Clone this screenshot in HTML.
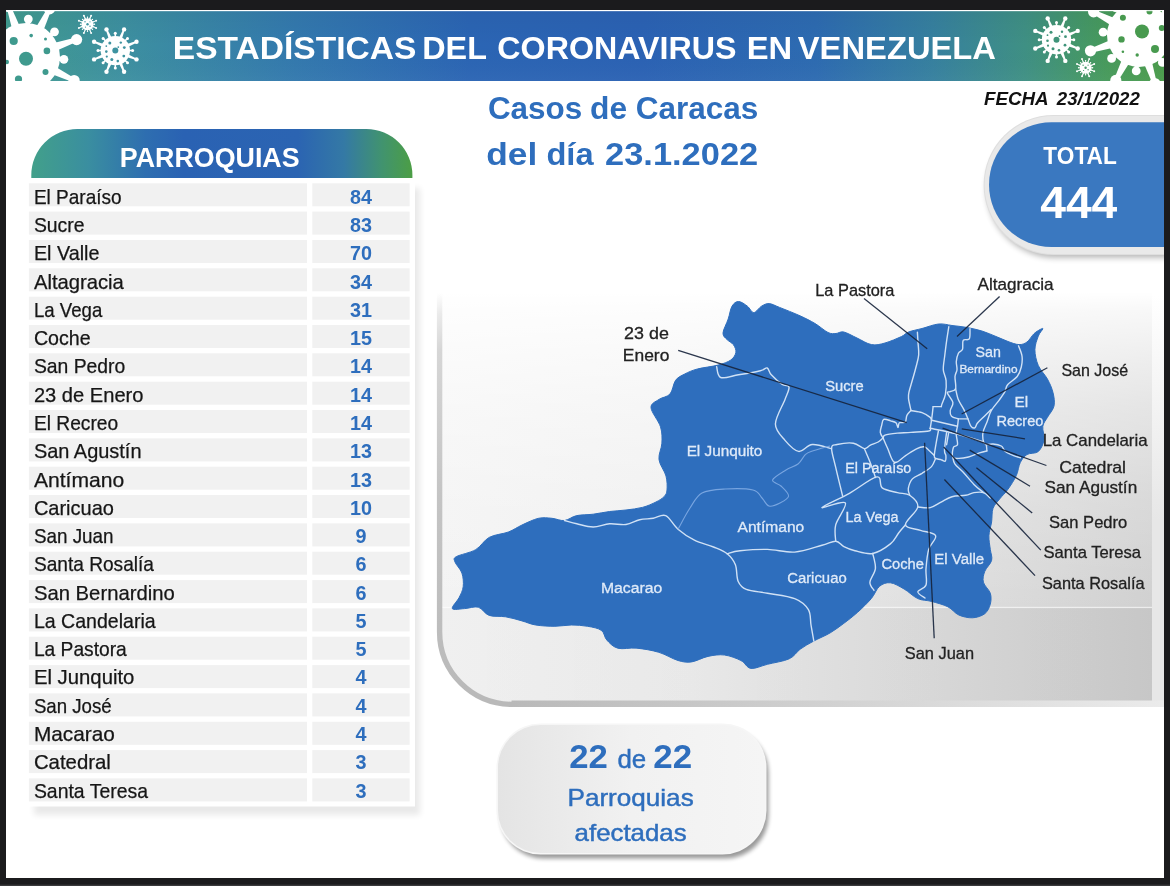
<!DOCTYPE html>
<html lang="es"><head><meta charset="utf-8"><title>Estadísticas del Coronavirus en Venezuela</title>
<style>html,body{margin:0;padding:0;background:#1b1b1d;}body{width:1170px;height:886px;overflow:hidden;}svg{display:block;font-family:"Liberation Sans",sans-serif;}</style>
</head><body>
<svg width="1170" height="886" viewBox="0 0 1170 886">
<defs>
<linearGradient id="gh" x1="0" x2="1" y1="0" y2="0">
<stop offset="0" stop-color="#419b8f"/><stop offset="0.10" stop-color="#3d90a0"/><stop offset="0.25" stop-color="#3379ae"/><stop offset="0.40" stop-color="#2b65b4"/><stop offset="0.55" stop-color="#2b62b4"/><stop offset="0.70" stop-color="#2d6bb1"/><stop offset="0.80" stop-color="#36809f"/><stop offset="0.88" stop-color="#3f9084"/><stop offset="0.95" stop-color="#479a5c"/><stop offset="1" stop-color="#4b9c4c"/>
</linearGradient>
<linearGradient id="ghv" x1="0" x2="0" y1="0" y2="1">
<stop offset="0" stop-color="#000" stop-opacity="0.04"/><stop offset="0.5" stop-color="#000" stop-opacity="0"/><stop offset="1" stop-color="#fff" stop-opacity="0.03"/>
</linearGradient>
<linearGradient id="gt" x1="0" x2="1" y1="0" y2="0">
<stop offset="0" stop-color="#42a08a"/><stop offset="0.15" stop-color="#3a8ea0"/><stop offset="0.30" stop-color="#2e6eb0"/><stop offset="0.40" stop-color="#2a62b3"/><stop offset="0.70" stop-color="#2b64b2"/><stop offset="0.82" stop-color="#3479a5"/><stop offset="0.92" stop-color="#41936f"/><stop offset="1" stop-color="#4c9e45"/>
</linearGradient>
<linearGradient id="gpo" x1="0" x2="1" y1="0" y2="0">
<stop offset="0" stop-color="#bcbcbc"/><stop offset="0.5" stop-color="#cfcfcf"/><stop offset="1" stop-color="#e9e9e9"/>
</linearGradient>
<linearGradient id="gpi" x1="0" x2="1" y1="0" y2="0">
<stop offset="0" stop-color="#f3f3f3"/><stop offset="0.35" stop-color="#eeeeee"/><stop offset="0.7" stop-color="#dedede"/><stop offset="1" stop-color="#cfcfcf"/>
</linearGradient>
<linearGradient id="gfade" x1="0" x2="0" y1="0" y2="1">
<stop offset="0" stop-color="#fff" stop-opacity="1"/><stop offset="0.12" stop-color="#fff" stop-opacity="1"/><stop offset="0.45" stop-color="#fff" stop-opacity="0.55"/><stop offset="1" stop-color="#fff" stop-opacity="0"/>
</linearGradient>
<linearGradient id="gbadge" x1="0" x2="1" y1="0" y2="0">
<stop offset="0" stop-color="#e4e4e4"/><stop offset="0.5" stop-color="#f1f1f1"/><stop offset="1" stop-color="#f5f5f5"/>
</linearGradient>
<filter id="sh" x="-10%" y="-10%" width="125%" height="130%"><feGaussianBlur stdDeviation="3"/></filter>
<filter id="sh1" x="-10%" y="-10%" width="125%" height="130%"><feGaussianBlur stdDeviation="2"/></filter>
<filter id="sh2" x="-10%" y="-10%" width="125%" height="130%"><feGaussianBlur stdDeviation="4"/></filter>
<clipPath id="cpHead"><rect x="6" y="10" width="1158" height="71"/></clipPath>
<clipPath id="cpWhite"><rect x="6" y="10" width="1158" height="868"/></clipPath>
</defs>
<rect x="0" y="0" width="1170" height="886" fill="#1b1b1d"/>
<rect x="0" y="884.6" width="1170" height="1.4" fill="#39393b"/>
<rect x="6" y="10" width="1158" height="868" fill="#ffffff"/>
<rect x="6" y="11" width="1158" height="70" fill="url(#gh)"/>
<rect x="6" y="11" width="1158" height="70" fill="url(#ghv)"/>
<g clip-path="url(#cpHead)">
<g fill="#fff" stroke="#fff" stroke-linecap="round">
<polygon stroke="none" points="54.7,51.6 77.3,41.6 75.9,37.6 51.9,43.6"/>
<circle cx="76.6" cy="39.6" r="5.60" stroke="none"/>
<line x1="54.8" y1="58.8" x2="63.9" y2="59.3" stroke-width="4.00"/>
<circle cx="63.9" cy="59.3" r="4.40" stroke="none"/>
<polygon stroke="none" points="50.1,73.5 73.2,82.3 75.0,78.6 53.8,65.8"/>
<circle cx="74.1" cy="80.5" r="5.60" stroke="none"/>
<line x1="45.1" y1="78.6" x2="51.2" y2="85.5" stroke-width="4.00"/>
<circle cx="51.2" cy="85.5" r="4.40" stroke="none"/>
<polygon stroke="none" points="31.4,85.7 41.4,108.3 45.4,106.9 39.4,82.9"/>
<circle cx="43.4" cy="107.6" r="5.60" stroke="none"/>
<line x1="24.2" y1="85.8" x2="23.7" y2="94.9" stroke-width="4.00"/>
<circle cx="23.7" cy="94.9" r="4.40" stroke="none"/>
<polygon stroke="none" points="9.5,81.1 0.7,104.2 4.4,106.0 17.2,84.8"/>
<circle cx="2.5" cy="105.1" r="5.60" stroke="none"/>
<line x1="4.4" y1="76.1" x2="-2.5" y2="82.2" stroke-width="4.00"/>
<circle cx="-2.5" cy="82.2" r="4.40" stroke="none"/>
<polygon stroke="none" points="-2.7,62.4 -25.3,72.4 -23.9,76.4 0.1,70.4"/>
<circle cx="-24.6" cy="74.4" r="5.60" stroke="none"/>
<line x1="-2.8" y1="55.2" x2="-11.9" y2="54.7" stroke-width="4.00"/>
<circle cx="-11.9" cy="54.7" r="4.40" stroke="none"/>
<polygon stroke="none" points="1.9,40.5 -21.2,31.7 -23.0,35.4 -1.8,48.2"/>
<circle cx="-22.1" cy="33.5" r="5.60" stroke="none"/>
<line x1="6.9" y1="35.4" x2="0.8" y2="28.5" stroke-width="4.00"/>
<circle cx="0.8" cy="28.5" r="4.40" stroke="none"/>
<polygon stroke="none" points="20.6,28.3 10.6,5.7 6.6,7.1 12.6,31.1"/>
<circle cx="8.6" cy="6.4" r="5.60" stroke="none"/>
<line x1="27.8" y1="28.2" x2="28.3" y2="19.1" stroke-width="4.00"/>
<circle cx="28.3" cy="19.1" r="4.40" stroke="none"/>
<polygon stroke="none" points="42.5,32.9 51.3,9.8 47.6,8.0 34.8,29.2"/>
<circle cx="49.5" cy="8.9" r="5.60" stroke="none"/>
<line x1="47.6" y1="37.9" x2="54.5" y2="31.8" stroke-width="4.00"/>
<circle cx="54.5" cy="31.8" r="4.40" stroke="none"/>
<circle cx="26" cy="57" r="34" stroke="none"/>
</g>
<g fill="#3f9a8e">
<circle cx="26.0" cy="58.8" r="7"/>
<circle cx="13.7" cy="41.0" r="4.1"/>
<circle cx="31.2" cy="35.6" r="1.8"/>
<circle cx="45.5" cy="39.0" r="1.5"/>
<circle cx="46.9" cy="50.9" r="3.3"/>
<circle cx="45.5" cy="72.0" r="3"/>
<circle cx="18.5" cy="79.0" r="3.6"/>
<circle cx="6.8" cy="62.0" r="2.2"/>
</g>
<g fill="#fff" stroke="#fff" stroke-linecap="round">
<polygon stroke="none" points="126.2,56.9 136.2,60.1 136.9,58.7 127.5,53.9"/>
<circle cx="136.5" cy="59.4" r="2.20" stroke="none"/>
<line x1="124.1" y1="59.4" x2="127.5" y2="62.8" stroke-width="1.52"/>
<circle cx="127.5" cy="62.8" r="1.50" stroke="none"/>
<polygon stroke="none" points="118.6,62.8 123.4,72.2 124.8,71.5 121.6,61.5"/>
<circle cx="124.1" cy="71.8" r="2.20" stroke="none"/>
<line x1="115.3" y1="63.1" x2="115.3" y2="67.9" stroke-width="1.52"/>
<circle cx="115.3" cy="67.9" r="1.50" stroke="none"/>
<polygon stroke="none" points="109.0,61.5 105.8,71.5 107.2,72.2 112.0,62.8"/>
<circle cx="106.5" cy="71.8" r="2.20" stroke="none"/>
<line x1="106.5" y1="59.4" x2="103.1" y2="62.8" stroke-width="1.52"/>
<circle cx="103.1" cy="62.8" r="1.50" stroke="none"/>
<polygon stroke="none" points="103.1,53.9 93.7,58.7 94.4,60.1 104.4,56.9"/>
<circle cx="94.1" cy="59.4" r="2.20" stroke="none"/>
<line x1="102.8" y1="50.6" x2="98.0" y2="50.6" stroke-width="1.52"/>
<circle cx="98.0" cy="50.6" r="1.50" stroke="none"/>
<polygon stroke="none" points="104.4,44.3 94.4,41.1 93.7,42.5 103.1,47.3"/>
<circle cx="94.1" cy="41.8" r="2.20" stroke="none"/>
<line x1="106.5" y1="41.8" x2="103.1" y2="38.4" stroke-width="1.52"/>
<circle cx="103.1" cy="38.4" r="1.50" stroke="none"/>
<polygon stroke="none" points="112.0,38.4 107.2,29.0 105.8,29.7 109.0,39.7"/>
<circle cx="106.5" cy="29.4" r="2.20" stroke="none"/>
<line x1="115.3" y1="38.1" x2="115.3" y2="33.3" stroke-width="1.52"/>
<circle cx="115.3" cy="33.3" r="1.50" stroke="none"/>
<polygon stroke="none" points="121.6,39.7 124.8,29.7 123.4,29.0 118.6,38.4"/>
<circle cx="124.1" cy="29.4" r="2.20" stroke="none"/>
<line x1="124.1" y1="41.8" x2="127.5" y2="38.4" stroke-width="1.52"/>
<circle cx="127.5" cy="38.4" r="1.50" stroke="none"/>
<polygon stroke="none" points="127.5,47.3 136.9,42.5 136.2,41.1 126.2,44.3"/>
<circle cx="136.5" cy="41.8" r="2.20" stroke="none"/>
<line x1="127.8" y1="50.6" x2="132.6" y2="50.6" stroke-width="1.52"/>
<circle cx="132.6" cy="50.6" r="1.50" stroke="none"/>
<circle cx="115.3" cy="50.6" r="14.7" stroke="none"/>
</g>
<g fill="#3e93a0">
<circle cx="115.3" cy="50.6" r="3"/>
<circle cx="109.8" cy="43.1" r="1.5"/>
<circle cx="120.8" cy="42.6" r="1.2"/>
<circle cx="124.3" cy="47.6" r="1.4"/>
<circle cx="123.8" cy="56.1" r="1.4"/>
<circle cx="117.8" cy="61.1" r="1.3"/>
<circle cx="111.8" cy="59.6" r="1.5"/>
<circle cx="106.3" cy="51.6" r="1.3"/>
<circle cx="106.8" cy="56.6" r="1.1"/>
<circle cx="118.3" cy="47.1" r="0.9"/>
<circle cx="106.3" cy="46.1" r="0.9"/>
</g>
<g fill="#fff" stroke="#fff" stroke-linecap="round">
<polygon stroke="none" points="91.9,27.0 95.9,28.2 96.2,27.5 92.5,25.5"/>
<circle cx="96.1" cy="27.9" r="1.00" stroke="none"/>
<line x1="91.1" y1="27.9" x2="92.4" y2="29.2" stroke-width="0.72"/>
<circle cx="92.4" cy="29.2" r="0.70" stroke="none"/>
<polygon stroke="none" points="88.7,29.3 90.7,33.0 91.4,32.7 90.2,28.7"/>
<circle cx="91.1" cy="32.9" r="1.00" stroke="none"/>
<line x1="87.5" y1="29.4" x2="87.5" y2="31.3" stroke-width="0.72"/>
<circle cx="87.5" cy="31.3" r="0.70" stroke="none"/>
<polygon stroke="none" points="84.8,28.7 83.6,32.7 84.3,33.0 86.3,29.3"/>
<circle cx="83.9" cy="32.9" r="1.00" stroke="none"/>
<line x1="83.9" y1="27.9" x2="82.6" y2="29.2" stroke-width="0.72"/>
<circle cx="82.6" cy="29.2" r="0.70" stroke="none"/>
<polygon stroke="none" points="82.5,25.5 78.8,27.5 79.1,28.2 83.1,27.0"/>
<circle cx="78.9" cy="27.9" r="1.00" stroke="none"/>
<line x1="82.4" y1="24.3" x2="80.5" y2="24.3" stroke-width="0.72"/>
<circle cx="80.5" cy="24.3" r="0.70" stroke="none"/>
<polygon stroke="none" points="83.1,21.6 79.1,20.4 78.8,21.1 82.5,23.1"/>
<circle cx="78.9" cy="20.7" r="1.00" stroke="none"/>
<line x1="83.9" y1="20.7" x2="82.6" y2="19.4" stroke-width="0.72"/>
<circle cx="82.6" cy="19.4" r="0.70" stroke="none"/>
<polygon stroke="none" points="86.3,19.3 84.3,15.6 83.6,15.9 84.8,19.9"/>
<circle cx="83.9" cy="15.7" r="1.00" stroke="none"/>
<line x1="87.5" y1="19.2" x2="87.5" y2="17.3" stroke-width="0.72"/>
<circle cx="87.5" cy="17.3" r="0.70" stroke="none"/>
<polygon stroke="none" points="90.2,19.9 91.4,15.9 90.7,15.6 88.7,19.3"/>
<circle cx="91.1" cy="15.7" r="1.00" stroke="none"/>
<line x1="91.1" y1="20.7" x2="92.4" y2="19.4" stroke-width="0.72"/>
<circle cx="92.4" cy="19.4" r="0.70" stroke="none"/>
<polygon stroke="none" points="92.5,23.1 96.2,21.1 95.9,20.4 91.9,21.6"/>
<circle cx="96.1" cy="20.7" r="1.00" stroke="none"/>
<line x1="92.6" y1="24.3" x2="94.5" y2="24.3" stroke-width="0.72"/>
<circle cx="94.5" cy="24.3" r="0.70" stroke="none"/>
<circle cx="87.5" cy="24.3" r="6" stroke="none"/>
</g>
<g fill="#3e95a0">
<circle cx="87.5" cy="24.3" r="1.2"/>
<circle cx="85.0" cy="21.8" r="0.7"/>
<circle cx="90.0" cy="26.3" r="0.7"/>
<circle cx="90.0" cy="21.8" r="0.6"/>
<circle cx="85.5" cy="27.1" r="0.6"/>
</g>
<g fill="#fff" stroke="#fff" stroke-linecap="round">
<polygon stroke="none" points="1166.2,30.6 1188.2,21.2 1186.9,17.2 1163.6,22.6"/>
<circle cx="1187.5" cy="19.2" r="5.60" stroke="none"/>
<line x1="1166.1" y1="37.1" x2="1174.9" y2="37.8" stroke-width="4.00"/>
<circle cx="1174.9" cy="37.8" r="4.40" stroke="none"/>
<polygon stroke="none" points="1161.3,51.1 1183.5,60.0 1185.4,56.3 1165.2,43.6"/>
<circle cx="1184.4" cy="58.2" r="5.60" stroke="none"/>
<line x1="1156.7" y1="55.7" x2="1162.4" y2="62.4" stroke-width="4.00"/>
<circle cx="1162.4" cy="62.4" r="4.40" stroke="none"/>
<polygon stroke="none" points="1143.4,62.2 1152.8,84.2 1156.8,82.9 1151.4,59.6"/>
<circle cx="1154.8" cy="83.5" r="5.60" stroke="none"/>
<line x1="1136.9" y1="62.1" x2="1136.2" y2="70.9" stroke-width="4.00"/>
<circle cx="1136.2" cy="70.9" r="4.40" stroke="none"/>
<polygon stroke="none" points="1122.9,57.3 1114.0,79.5 1117.7,81.4 1130.4,61.2"/>
<circle cx="1115.8" cy="80.4" r="5.60" stroke="none"/>
<line x1="1118.3" y1="52.7" x2="1111.6" y2="58.4" stroke-width="4.00"/>
<circle cx="1111.6" cy="58.4" r="4.40" stroke="none"/>
<polygon stroke="none" points="1111.8,39.4 1089.8,48.8 1091.1,52.8 1114.4,47.4"/>
<circle cx="1090.5" cy="50.8" r="5.60" stroke="none"/>
<line x1="1111.9" y1="32.9" x2="1103.1" y2="32.2" stroke-width="4.00"/>
<circle cx="1103.1" cy="32.2" r="4.40" stroke="none"/>
<polygon stroke="none" points="1116.7,18.9 1094.5,10.0 1092.6,13.7 1112.8,26.4"/>
<circle cx="1093.6" cy="11.8" r="5.60" stroke="none"/>
<line x1="1121.3" y1="14.3" x2="1115.6" y2="7.6" stroke-width="4.00"/>
<circle cx="1115.6" cy="7.6" r="4.40" stroke="none"/>
<polygon stroke="none" points="1134.6,7.8 1125.2,-14.2 1121.2,-12.9 1126.6,10.4"/>
<circle cx="1123.2" cy="-13.5" r="5.60" stroke="none"/>
<line x1="1141.1" y1="7.9" x2="1141.8" y2="-0.9" stroke-width="4.00"/>
<circle cx="1141.8" cy="-0.9" r="4.40" stroke="none"/>
<polygon stroke="none" points="1155.1,12.7 1164.0,-9.5 1160.3,-11.4 1147.6,8.8"/>
<circle cx="1162.2" cy="-10.4" r="5.60" stroke="none"/>
<line x1="1159.7" y1="17.3" x2="1166.4" y2="11.6" stroke-width="4.00"/>
<circle cx="1166.4" cy="11.6" r="4.40" stroke="none"/>
<circle cx="1139" cy="35" r="32" stroke="none"/>
</g>
<g fill="#489a4f">
<circle cx="1142.0" cy="31.5" r="7"/>
<circle cx="1122.9" cy="17.8" r="3"/>
<circle cx="1121.5" cy="39.4" r="3.2"/>
<circle cx="1155.0" cy="49.0" r="4"/>
<circle cx="1137.2" cy="55.0" r="1.7"/>
<circle cx="1122.9" cy="51.7" r="1.3"/>
<circle cx="1161.8" cy="28.0" r="3"/>
<circle cx="1149.5" cy="11.6" r="3"/>
</g>
<g fill="#fff" stroke="#fff" stroke-linecap="round">
<polygon stroke="none" points="1067.4,46.0 1077.4,49.2 1078.1,47.8 1068.7,43.0"/>
<circle cx="1077.7" cy="48.5" r="2.20" stroke="none"/>
<line x1="1065.3" y1="48.5" x2="1068.7" y2="51.9" stroke-width="1.52"/>
<circle cx="1068.7" cy="51.9" r="1.50" stroke="none"/>
<polygon stroke="none" points="1059.8,51.9 1064.6,61.3 1066.0,60.6 1062.8,50.6"/>
<circle cx="1065.3" cy="60.9" r="2.20" stroke="none"/>
<line x1="1056.5" y1="52.2" x2="1056.5" y2="57.0" stroke-width="1.52"/>
<circle cx="1056.5" cy="57.0" r="1.50" stroke="none"/>
<polygon stroke="none" points="1050.2,50.6 1047.0,60.6 1048.4,61.3 1053.2,51.9"/>
<circle cx="1047.7" cy="60.9" r="2.20" stroke="none"/>
<line x1="1047.7" y1="48.5" x2="1044.3" y2="51.9" stroke-width="1.52"/>
<circle cx="1044.3" cy="51.9" r="1.50" stroke="none"/>
<polygon stroke="none" points="1044.3,43.0 1034.9,47.8 1035.6,49.2 1045.6,46.0"/>
<circle cx="1035.3" cy="48.5" r="2.20" stroke="none"/>
<line x1="1044.0" y1="39.7" x2="1039.2" y2="39.7" stroke-width="1.52"/>
<circle cx="1039.2" cy="39.7" r="1.50" stroke="none"/>
<polygon stroke="none" points="1045.6,33.4 1035.6,30.2 1034.9,31.6 1044.3,36.4"/>
<circle cx="1035.3" cy="30.9" r="2.20" stroke="none"/>
<line x1="1047.7" y1="30.9" x2="1044.3" y2="27.5" stroke-width="1.52"/>
<circle cx="1044.3" cy="27.5" r="1.50" stroke="none"/>
<polygon stroke="none" points="1053.2,27.5 1048.4,18.1 1047.0,18.8 1050.2,28.8"/>
<circle cx="1047.7" cy="18.5" r="2.20" stroke="none"/>
<line x1="1056.5" y1="27.2" x2="1056.5" y2="22.4" stroke-width="1.52"/>
<circle cx="1056.5" cy="22.4" r="1.50" stroke="none"/>
<polygon stroke="none" points="1062.8,28.8 1066.0,18.8 1064.6,18.1 1059.8,27.5"/>
<circle cx="1065.3" cy="18.5" r="2.20" stroke="none"/>
<line x1="1065.3" y1="30.9" x2="1068.7" y2="27.5" stroke-width="1.52"/>
<circle cx="1068.7" cy="27.5" r="1.50" stroke="none"/>
<polygon stroke="none" points="1068.7,36.4 1078.1,31.6 1077.4,30.2 1067.4,33.4"/>
<circle cx="1077.7" cy="30.9" r="2.20" stroke="none"/>
<line x1="1069.0" y1="39.7" x2="1073.8" y2="39.7" stroke-width="1.52"/>
<circle cx="1073.8" cy="39.7" r="1.50" stroke="none"/>
<circle cx="1056.5" cy="39.7" r="14.7" stroke="none"/>
</g>
<g fill="#40947a">
<circle cx="1056.5" cy="39.7" r="3"/>
<circle cx="1051.0" cy="32.2" r="1.5"/>
<circle cx="1062.0" cy="31.7" r="1.2"/>
<circle cx="1065.5" cy="36.7" r="1.4"/>
<circle cx="1065.0" cy="45.2" r="1.4"/>
<circle cx="1059.0" cy="50.2" r="1.3"/>
<circle cx="1053.0" cy="48.7" r="1.5"/>
<circle cx="1047.5" cy="40.7" r="1.3"/>
<circle cx="1048.0" cy="45.7" r="1.1"/>
<circle cx="1059.5" cy="36.2" r="0.9"/>
<circle cx="1047.5" cy="35.2" r="0.9"/>
</g>
<g fill="#fff" stroke="#fff" stroke-linecap="round">
<polygon stroke="none" points="1090.0,70.4 1094.0,71.6 1094.3,70.9 1090.6,68.9"/>
<circle cx="1094.2" cy="71.3" r="1.00" stroke="none"/>
<line x1="1089.2" y1="71.3" x2="1090.5" y2="72.6" stroke-width="0.72"/>
<circle cx="1090.5" cy="72.6" r="0.70" stroke="none"/>
<polygon stroke="none" points="1086.8,72.7 1088.8,76.4 1089.5,76.1 1088.3,72.1"/>
<circle cx="1089.2" cy="76.3" r="1.00" stroke="none"/>
<line x1="1085.6" y1="72.8" x2="1085.6" y2="74.7" stroke-width="0.72"/>
<circle cx="1085.6" cy="74.7" r="0.70" stroke="none"/>
<polygon stroke="none" points="1082.9,72.1 1081.7,76.1 1082.4,76.4 1084.4,72.7"/>
<circle cx="1082.0" cy="76.3" r="1.00" stroke="none"/>
<line x1="1082.0" y1="71.3" x2="1080.7" y2="72.6" stroke-width="0.72"/>
<circle cx="1080.7" cy="72.6" r="0.70" stroke="none"/>
<polygon stroke="none" points="1080.6,68.9 1076.9,70.9 1077.2,71.6 1081.2,70.4"/>
<circle cx="1077.0" cy="71.3" r="1.00" stroke="none"/>
<line x1="1080.5" y1="67.7" x2="1078.6" y2="67.7" stroke-width="0.72"/>
<circle cx="1078.6" cy="67.7" r="0.70" stroke="none"/>
<polygon stroke="none" points="1081.2,65.0 1077.2,63.8 1076.9,64.5 1080.6,66.5"/>
<circle cx="1077.0" cy="64.1" r="1.00" stroke="none"/>
<line x1="1082.0" y1="64.1" x2="1080.7" y2="62.8" stroke-width="0.72"/>
<circle cx="1080.7" cy="62.8" r="0.70" stroke="none"/>
<polygon stroke="none" points="1084.4,62.7 1082.4,59.0 1081.7,59.3 1082.9,63.3"/>
<circle cx="1082.0" cy="59.1" r="1.00" stroke="none"/>
<line x1="1085.6" y1="62.6" x2="1085.6" y2="60.7" stroke-width="0.72"/>
<circle cx="1085.6" cy="60.7" r="0.70" stroke="none"/>
<polygon stroke="none" points="1088.3,63.3 1089.5,59.3 1088.8,59.0 1086.8,62.7"/>
<circle cx="1089.2" cy="59.1" r="1.00" stroke="none"/>
<line x1="1089.2" y1="64.1" x2="1090.5" y2="62.8" stroke-width="0.72"/>
<circle cx="1090.5" cy="62.8" r="0.70" stroke="none"/>
<polygon stroke="none" points="1090.6,66.5 1094.3,64.5 1094.0,63.8 1090.0,65.0"/>
<circle cx="1094.2" cy="64.1" r="1.00" stroke="none"/>
<line x1="1090.7" y1="67.7" x2="1092.6" y2="67.7" stroke-width="0.72"/>
<circle cx="1092.6" cy="67.7" r="0.70" stroke="none"/>
<circle cx="1085.6" cy="67.7" r="6" stroke="none"/>
</g>
<g fill="#45986a">
<circle cx="1085.6" cy="67.7" r="1.2"/>
<circle cx="1083.1" cy="65.2" r="0.7"/>
<circle cx="1088.1" cy="69.7" r="0.7"/>
<circle cx="1088.1" cy="65.2" r="0.6"/>
<circle cx="1083.6" cy="70.5" r="0.6"/>
</g>
</g>
<rect x="6" y="10" width="1158" height="1.2" fill="#fff" opacity="0.85"/>
<text x="172.80" y="58.5" font-size="30.5" font-weight="700" fill="#fff" text-anchor="start" textLength="243.51" lengthAdjust="spacingAndGlyphs">ESTADÍSTICAS</text>
<text x="422.28" y="58.5" font-size="30.5" font-weight="700" fill="#fff" text-anchor="start" textLength="64.68" lengthAdjust="spacingAndGlyphs">DEL</text>
<text x="497.38" y="58.5" font-size="30.5" font-weight="700" fill="#fff" text-anchor="start" textLength="239.05" lengthAdjust="spacingAndGlyphs">CORONAVIRUS</text>
<text x="746.66" y="58.5" font-size="30.5" font-weight="700" fill="#fff" text-anchor="start" textLength="45.42" lengthAdjust="spacingAndGlyphs">EN</text>
<text x="797.73" y="58.5" font-size="30.5" font-weight="700" fill="#fff" text-anchor="start" textLength="198.31" lengthAdjust="spacingAndGlyphs">VENEZUELA</text>
<text x="487.95" y="119.4" font-size="31.5" font-weight="700" fill="#2e6ebd" text-anchor="start" textLength="94.24" lengthAdjust="spacingAndGlyphs">Casos</text>
<text x="590.14" y="119.4" font-size="31.5" font-weight="700" fill="#2e6ebd" text-anchor="start" textLength="37.09" lengthAdjust="spacingAndGlyphs">de</text>
<text x="635.65" y="119.4" font-size="31.5" font-weight="700" fill="#2e6ebd" text-anchor="start" textLength="122.61" lengthAdjust="spacingAndGlyphs">Caracas</text>
<text x="486.30" y="164.6" font-size="31.5" font-weight="700" fill="#2e6ebd" text-anchor="start" textLength="51.04" lengthAdjust="spacingAndGlyphs">del</text>
<text x="546.41" y="164.6" font-size="31.5" font-weight="700" fill="#2e6ebd" text-anchor="start" textLength="47.15" lengthAdjust="spacingAndGlyphs">día</text>
<text x="605.11" y="164.6" font-size="31.5" font-weight="700" fill="#2e6ebd" text-anchor="start" textLength="153.04" lengthAdjust="spacingAndGlyphs">23.1.2022</text>
<text x="983.94" y="104.6" font-size="18.1" font-weight="700" fill="#111" text-anchor="start" textLength="64.74" lengthAdjust="spacingAndGlyphs" font-style="italic">FECHA</text>
<text x="1056.76" y="104.6" font-size="18.1" font-weight="700" fill="#111" text-anchor="start" textLength="83.10" lengthAdjust="spacingAndGlyphs" font-style="italic">23/1/2022</text>
<defs>
<linearGradient id="gfade2" gradientUnits="userSpaceOnUse" x1="0" x2="0" y1="292" y2="610">
<stop offset="0" stop-color="#fff" stop-opacity="1"/><stop offset="0.06" stop-color="#fff" stop-opacity="0.85"/><stop offset="0.19" stop-color="#fff" stop-opacity="0.66"/><stop offset="0.36" stop-color="#fff" stop-opacity="0.45"/><stop offset="0.66" stop-color="#fff" stop-opacity="0.2"/><stop offset="1" stop-color="#fff" stop-opacity="0"/>
</linearGradient>
<linearGradient id="gband" x1="0" x2="1" y1="0" y2="0">
<stop offset="0" stop-color="#000" stop-opacity="0.012"/><stop offset="0.5" stop-color="#000" stop-opacity="0.03"/><stop offset="1" stop-color="#000" stop-opacity="0.045"/>
</linearGradient>
<linearGradient id="gbl" gradientUnits="userSpaceOnUse" x1="0" x2="0" y1="293" y2="700">
<stop offset="0" stop-color="#d8d8d8" stop-opacity="0"/><stop offset="0.05" stop-color="#d8d8d8" stop-opacity="0.5"/><stop offset="0.14" stop-color="#d4d4d4" stop-opacity="0.95"/><stop offset="0.5" stop-color="#c4c4c4" stop-opacity="1"/><stop offset="1" stop-color="#b9b9b9" stop-opacity="1"/>
</linearGradient>
<linearGradient id="gbb" gradientUnits="userSpaceOnUse" x1="512" x2="1164" y1="0" y2="0">
<stop offset="0" stop-color="#b9b9b9"/><stop offset="0.5" stop-color="#d2d2d2"/><stop offset="1" stop-color="#ebebeb"/>
</linearGradient>
<linearGradient id="gbr" gradientUnits="userSpaceOnUse" x1="0" x2="0" y1="295" y2="520">
<stop offset="0" stop-color="#ffffff"/><stop offset="1" stop-color="#e7e7e7"/>
</linearGradient>
<clipPath id="cpIn"><path d="M439,250 V632 a73,73 0 0 0 73,73 H1152 V250 Z"/></clipPath>
</defs>
<g clip-path="url(#cpWhite)">
<g clip-path="url(#cpIn)">
<rect x="437" y="250" width="730" height="460" fill="url(#gpi)"/>
<rect x="437" y="608" width="730" height="100" fill="url(#gband)"/><rect x="437" y="606.8" width="730" height="1.3" fill="#fff" opacity="0.6"/>
<rect x="430" y="250" width="745" height="362" fill="url(#gfade2)"/>
<rect x="430" y="250" width="745" height="43" fill="#fff"/>
</g>
<rect x="1152" y="286" width="13" height="421" fill="url(#gbr)"/>
<path d="M439.6,286 V632 a72.4,72.4 0 0 0 72.4,72.4" fill="none" stroke="url(#gbl)" stroke-width="5.4"/>
<path d="M511.5,703.8 H1170" fill="none" stroke="url(#gbb)" stroke-width="6.4"/>
</g>
<g clip-path="url(#cpWhite)">
<path d="M1180,117 H1054 a68,68 0 0 0 0,136 H1180 Z" fill="#000" opacity="0.30" filter="url(#sh)" transform="translate(1,4.5)"/>
<path d="M1180,115 H1053.6 a70,70 0 0 0 0,140 H1180 Z" fill="#dedede"/>
<path d="M1180,116 H1053.6 a69,69 0 0 0 0,138 H1180 Z" fill="#e9e9e9"/>
<path d="M1180,122.2 H1051.4 a62.4,62.4 0 0 0 0,124.8 H1180 Z" fill="#3a78c0"/>
</g>
<text x="1043.35" y="163.5" font-size="23" font-weight="700" fill="#fff" text-anchor="start" textLength="73.42" lengthAdjust="spacingAndGlyphs">TOTAL</text>
<text x="1040.20" y="218.0" font-size="43.5" font-weight="700" fill="#fff" text-anchor="start" textLength="77.15" lengthAdjust="spacingAndGlyphs">444</text>
<rect x="34" y="188" width="386" height="627" fill="#000" opacity="0.085" filter="url(#sh)"/>
<rect x="27" y="178" width="388" height="628.5" fill="#fff"/>
<path d="M31.3,178 V175 a46,46 0 0 1 46,-46 H366.4 a46,46 0 0 1 46,46 V178 Z" fill="url(#gt)"/>
<text x="119.86" y="167.3" font-size="27" font-weight="700" fill="#fff" text-anchor="start" textLength="179.75" lengthAdjust="spacingAndGlyphs">PARROQUIAS</text>
<rect x="28.9" y="183.3" width="278.1" height="23" fill="#f1f1f1"/>
<rect x="312.3" y="183.3" width="97.3" height="23" fill="#f1f1f1"/>
<text x="33.90" y="203.6" font-size="19.8" font-weight="400" fill="#161616" text-anchor="start" textLength="87.74" lengthAdjust="spacingAndGlyphs" stroke="#161616" stroke-width="0.25">El Paraíso</text>
<text x="361.00" y="203.6" font-size="19.8" font-weight="700" fill="#2e6ebd" text-anchor="middle">84</text>
<rect x="28.9" y="211.6" width="278.1" height="23" fill="#f1f1f1"/>
<rect x="312.3" y="211.6" width="97.3" height="23" fill="#f1f1f1"/>
<text x="33.90" y="231.9" font-size="19.8" font-weight="400" fill="#161616" text-anchor="start" textLength="50.62" lengthAdjust="spacingAndGlyphs" stroke="#161616" stroke-width="0.25">Sucre</text>
<text x="361.00" y="231.9" font-size="19.8" font-weight="700" fill="#2e6ebd" text-anchor="middle">83</text>
<rect x="28.9" y="240.0" width="278.1" height="23" fill="#f1f1f1"/>
<rect x="312.3" y="240.0" width="97.3" height="23" fill="#f1f1f1"/>
<text x="33.90" y="260.2" font-size="19.8" font-weight="400" fill="#161616" text-anchor="start" textLength="65.56" lengthAdjust="spacingAndGlyphs" stroke="#161616" stroke-width="0.25">El Valle</text>
<text x="361.00" y="260.2" font-size="19.8" font-weight="700" fill="#2e6ebd" text-anchor="middle">70</text>
<rect x="28.9" y="268.3" width="278.1" height="23" fill="#f1f1f1"/>
<rect x="312.3" y="268.3" width="97.3" height="23" fill="#f1f1f1"/>
<text x="33.90" y="288.5" font-size="19.8" font-weight="400" fill="#161616" text-anchor="start" textLength="89.97" lengthAdjust="spacingAndGlyphs" stroke="#161616" stroke-width="0.25">Altagracia</text>
<text x="361.00" y="288.5" font-size="19.8" font-weight="700" fill="#2e6ebd" text-anchor="middle">34</text>
<rect x="28.9" y="296.7" width="278.1" height="23" fill="#f1f1f1"/>
<rect x="312.3" y="296.7" width="97.3" height="23" fill="#f1f1f1"/>
<text x="33.90" y="316.7" font-size="19.8" font-weight="400" fill="#161616" text-anchor="start" textLength="68.37" lengthAdjust="spacingAndGlyphs" stroke="#161616" stroke-width="0.25">La Vega</text>
<text x="361.00" y="316.7" font-size="19.8" font-weight="700" fill="#2e6ebd" text-anchor="middle">31</text>
<rect x="28.9" y="325.0" width="278.1" height="23" fill="#f1f1f1"/>
<rect x="312.3" y="325.0" width="97.3" height="23" fill="#f1f1f1"/>
<text x="33.90" y="345.0" font-size="19.8" font-weight="400" fill="#161616" text-anchor="start" textLength="56.73" lengthAdjust="spacingAndGlyphs" stroke="#161616" stroke-width="0.25">Coche</text>
<text x="361.00" y="345.0" font-size="19.8" font-weight="700" fill="#2e6ebd" text-anchor="middle">15</text>
<rect x="28.9" y="353.3" width="278.1" height="23" fill="#f1f1f1"/>
<rect x="312.3" y="353.3" width="97.3" height="23" fill="#f1f1f1"/>
<text x="33.90" y="373.3" font-size="19.8" font-weight="400" fill="#161616" text-anchor="start" textLength="91.42" lengthAdjust="spacingAndGlyphs" stroke="#161616" stroke-width="0.25">San Pedro</text>
<text x="361.00" y="373.3" font-size="19.8" font-weight="700" fill="#2e6ebd" text-anchor="middle">14</text>
<rect x="28.9" y="381.7" width="278.1" height="23" fill="#f1f1f1"/>
<rect x="312.3" y="381.7" width="97.3" height="23" fill="#f1f1f1"/>
<text x="33.90" y="401.6" font-size="19.8" font-weight="400" fill="#161616" text-anchor="start" textLength="109.61" lengthAdjust="spacingAndGlyphs" stroke="#161616" stroke-width="0.25">23 de Enero</text>
<text x="361.00" y="401.6" font-size="19.8" font-weight="700" fill="#2e6ebd" text-anchor="middle">14</text>
<rect x="28.9" y="410.0" width="278.1" height="23" fill="#f1f1f1"/>
<rect x="312.3" y="410.0" width="97.3" height="23" fill="#f1f1f1"/>
<text x="33.90" y="429.9" font-size="19.8" font-weight="400" fill="#161616" text-anchor="start" textLength="84.33" lengthAdjust="spacingAndGlyphs" stroke="#161616" stroke-width="0.25">El Recreo</text>
<text x="361.00" y="429.9" font-size="19.8" font-weight="700" fill="#2e6ebd" text-anchor="middle">14</text>
<rect x="28.9" y="438.4" width="278.1" height="23" fill="#f1f1f1"/>
<rect x="312.3" y="438.4" width="97.3" height="23" fill="#f1f1f1"/>
<text x="33.90" y="458.2" font-size="19.8" font-weight="400" fill="#161616" text-anchor="start" textLength="107.60" lengthAdjust="spacingAndGlyphs" stroke="#161616" stroke-width="0.25">San Agustín</text>
<text x="361.00" y="458.2" font-size="19.8" font-weight="700" fill="#2e6ebd" text-anchor="middle">13</text>
<rect x="28.9" y="466.7" width="278.1" height="23" fill="#f1f1f1"/>
<rect x="312.3" y="466.7" width="97.3" height="23" fill="#f1f1f1"/>
<text x="33.90" y="486.5" font-size="19.8" font-weight="400" fill="#161616" text-anchor="start" textLength="90.28" lengthAdjust="spacingAndGlyphs" stroke="#161616" stroke-width="0.25">Antímano</text>
<text x="361.00" y="486.5" font-size="19.8" font-weight="700" fill="#2e6ebd" text-anchor="middle">13</text>
<rect x="28.9" y="495.0" width="278.1" height="23" fill="#f1f1f1"/>
<rect x="312.3" y="495.0" width="97.3" height="23" fill="#f1f1f1"/>
<text x="33.90" y="514.7" font-size="19.8" font-weight="400" fill="#161616" text-anchor="start" textLength="80.03" lengthAdjust="spacingAndGlyphs" stroke="#161616" stroke-width="0.25">Caricuao</text>
<text x="361.00" y="514.7" font-size="19.8" font-weight="700" fill="#2e6ebd" text-anchor="middle">10</text>
<rect x="28.9" y="523.4" width="278.1" height="23" fill="#f1f1f1"/>
<rect x="312.3" y="523.4" width="97.3" height="23" fill="#f1f1f1"/>
<text x="33.90" y="543.0" font-size="19.8" font-weight="400" fill="#161616" text-anchor="start" textLength="79.68" lengthAdjust="spacingAndGlyphs" stroke="#161616" stroke-width="0.25">San Juan</text>
<text x="361.00" y="543.0" font-size="19.8" font-weight="700" fill="#2e6ebd" text-anchor="middle">9</text>
<rect x="28.9" y="551.7" width="278.1" height="23" fill="#f1f1f1"/>
<rect x="312.3" y="551.7" width="97.3" height="23" fill="#f1f1f1"/>
<text x="33.90" y="571.3" font-size="19.8" font-weight="400" fill="#161616" text-anchor="start" textLength="120.12" lengthAdjust="spacingAndGlyphs" stroke="#161616" stroke-width="0.25">Santa Rosalía</text>
<text x="361.00" y="571.3" font-size="19.8" font-weight="700" fill="#2e6ebd" text-anchor="middle">6</text>
<rect x="28.9" y="580.1" width="278.1" height="23" fill="#f1f1f1"/>
<rect x="312.3" y="580.1" width="97.3" height="23" fill="#f1f1f1"/>
<text x="33.90" y="599.6" font-size="19.8" font-weight="400" fill="#161616" text-anchor="start" textLength="140.89" lengthAdjust="spacingAndGlyphs" stroke="#161616" stroke-width="0.25">San Bernardino</text>
<text x="361.00" y="599.6" font-size="19.8" font-weight="700" fill="#2e6ebd" text-anchor="middle">6</text>
<rect x="28.9" y="608.4" width="278.1" height="23" fill="#f1f1f1"/>
<rect x="312.3" y="608.4" width="97.3" height="23" fill="#f1f1f1"/>
<text x="33.90" y="627.9" font-size="19.8" font-weight="400" fill="#161616" text-anchor="start" textLength="121.82" lengthAdjust="spacingAndGlyphs" stroke="#161616" stroke-width="0.25">La Candelaria</text>
<text x="361.00" y="627.9" font-size="19.8" font-weight="700" fill="#2e6ebd" text-anchor="middle">5</text>
<rect x="28.9" y="636.7" width="278.1" height="23" fill="#f1f1f1"/>
<rect x="312.3" y="636.7" width="97.3" height="23" fill="#f1f1f1"/>
<text x="33.90" y="656.2" font-size="19.8" font-weight="400" fill="#161616" text-anchor="start" textLength="92.92" lengthAdjust="spacingAndGlyphs" stroke="#161616" stroke-width="0.25">La Pastora</text>
<text x="361.00" y="656.2" font-size="19.8" font-weight="700" fill="#2e6ebd" text-anchor="middle">5</text>
<rect x="28.9" y="665.1" width="278.1" height="23" fill="#f1f1f1"/>
<rect x="312.3" y="665.1" width="97.3" height="23" fill="#f1f1f1"/>
<text x="33.90" y="684.4" font-size="19.8" font-weight="400" fill="#161616" text-anchor="start" textLength="100.50" lengthAdjust="spacingAndGlyphs" stroke="#161616" stroke-width="0.25">El Junquito</text>
<text x="361.00" y="684.4" font-size="19.8" font-weight="700" fill="#2e6ebd" text-anchor="middle">4</text>
<rect x="28.9" y="693.4" width="278.1" height="23" fill="#f1f1f1"/>
<rect x="312.3" y="693.4" width="97.3" height="23" fill="#f1f1f1"/>
<text x="33.90" y="712.7" font-size="19.8" font-weight="400" fill="#161616" text-anchor="start" textLength="77.83" lengthAdjust="spacingAndGlyphs" stroke="#161616" stroke-width="0.25">San José</text>
<text x="361.00" y="712.7" font-size="19.8" font-weight="700" fill="#2e6ebd" text-anchor="middle">4</text>
<rect x="28.9" y="721.8" width="278.1" height="23" fill="#f1f1f1"/>
<rect x="312.3" y="721.8" width="97.3" height="23" fill="#f1f1f1"/>
<text x="33.90" y="741.0" font-size="19.8" font-weight="400" fill="#161616" text-anchor="start" textLength="80.92" lengthAdjust="spacingAndGlyphs" stroke="#161616" stroke-width="0.25">Macarao</text>
<text x="361.00" y="741.0" font-size="19.8" font-weight="700" fill="#2e6ebd" text-anchor="middle">4</text>
<rect x="28.9" y="750.1" width="278.1" height="23" fill="#f1f1f1"/>
<rect x="312.3" y="750.1" width="97.3" height="23" fill="#f1f1f1"/>
<text x="33.90" y="769.3" font-size="19.8" font-weight="400" fill="#161616" text-anchor="start" textLength="77.02" lengthAdjust="spacingAndGlyphs" stroke="#161616" stroke-width="0.25">Catedral</text>
<text x="361.00" y="769.3" font-size="19.8" font-weight="700" fill="#2e6ebd" text-anchor="middle">3</text>
<rect x="28.9" y="778.4" width="278.1" height="23" fill="#f1f1f1"/>
<rect x="312.3" y="778.4" width="97.3" height="23" fill="#f1f1f1"/>
<text x="33.90" y="797.6" font-size="19.8" font-weight="400" fill="#161616" text-anchor="start" textLength="114.07" lengthAdjust="spacingAndGlyphs" stroke="#161616" stroke-width="0.25">Santa Teresa</text>
<text x="361.00" y="797.6" font-size="19.8" font-weight="700" fill="#2e6ebd" text-anchor="middle">3</text>
<path d="M452.3,608.6C451.4,606.8 457.3,601.2 459.1,597.6C460.9,594.0 462.7,590.8 463.2,586.7C463.7,582.6 463.3,577.1 461.9,573.0C460.5,568.9 455.9,564.7 455.0,562.0C454.1,559.3 453.0,558.6 456.4,556.6C459.8,554.6 470.1,552.9 475.6,549.7C481.1,546.5 483.7,540.4 489.2,537.4C494.7,534.4 502.9,534.1 508.4,532.0C513.9,529.9 517.0,527.3 522.0,525.0C527.0,522.7 533.5,519.4 538.5,518.3C543.5,517.2 547.7,517.9 552.0,518.3C556.3,518.7 560.4,521.0 564.5,520.5C568.6,520.0 572.0,516.6 576.8,515.6C581.6,514.6 587.7,514.9 593.2,514.2C598.7,513.5 604.1,512.2 609.6,511.5C615.1,510.8 620.5,510.7 626.0,510.0C631.5,509.3 637.4,508.7 642.4,507.4C647.4,506.1 652.4,503.8 656.0,502.0C659.6,500.2 662.5,498.4 664.3,496.4C666.1,494.4 666.7,493.4 667.0,490.0C667.3,486.6 667.3,481.1 666.0,476.0C664.7,470.9 659.7,465.1 659.0,459.6C658.3,454.1 661.6,448.7 661.9,443.2C662.1,437.7 662.3,432.7 660.5,426.8C658.7,420.9 651.2,412.2 651.0,407.6C650.8,403.0 655.8,401.7 659.0,399.4C662.2,397.1 667.2,397.2 670.0,394.0C672.8,390.8 673.2,383.6 675.6,380.3C678.0,377.0 681.0,376.0 684.6,374.1C688.2,372.2 691.8,370.5 697.4,369.0C703.0,367.5 712.4,366.6 718.0,365.1C723.6,363.6 727.8,362.1 730.8,360.0C733.8,357.9 735.5,354.9 735.9,352.3C736.3,349.7 734.8,346.7 733.3,344.6C731.8,342.5 728.7,341.4 727.0,339.5C725.3,337.6 722.8,336.4 723.0,333.0C723.2,329.6 726.7,323.5 728.2,319.0C729.7,314.5 730.3,309.1 732.0,306.2C733.7,303.3 735.9,301.5 738.5,301.5C741.1,301.5 744.9,304.3 747.4,306.2C749.9,308.1 751.4,312.6 753.8,312.6C756.1,312.6 758.9,307.7 761.5,306.2C764.1,304.7 766.2,303.4 769.2,303.6C772.2,303.8 774.4,305.4 779.5,307.4C784.6,309.4 794.1,313.1 800.0,315.8C805.9,318.5 810.3,320.7 815.0,323.5C819.7,326.3 824.5,330.8 828.0,332.5C831.5,334.2 833.4,333.6 836.0,333.5C838.6,333.4 840.3,331.2 843.8,332.0C847.3,332.8 852.4,335.9 857.0,338.0C861.6,340.1 866.8,343.8 871.5,344.6C876.2,345.4 880.0,344.4 885.0,343.0C890.0,341.6 897.6,338.3 901.5,336.5C905.4,334.7 905.1,333.3 908.5,332.0C911.9,330.7 917.0,329.8 922.0,328.5C927.0,327.2 933.5,324.5 938.5,324.0C943.5,323.5 947.4,324.9 952.0,325.5C956.6,326.1 961.0,326.4 966.0,327.3C971.0,328.2 976.9,329.5 981.9,331.0C986.9,332.5 991.6,334.8 996.0,336.5C1000.4,338.2 1004.2,340.1 1008.0,341.5C1011.8,342.9 1015.8,344.5 1019.0,344.6C1022.2,344.7 1024.5,343.8 1027.0,342.0C1029.5,340.2 1031.6,336.0 1033.8,333.9C1036.0,331.8 1038.5,330.4 1040.0,329.6C1041.5,328.8 1043.1,327.8 1042.8,328.9C1042.5,330.0 1039.6,332.6 1038.3,336.1C1037.0,339.6 1034.9,344.8 1034.9,349.7C1034.9,354.6 1036.2,360.6 1038.3,365.5C1040.4,370.4 1045.0,374.5 1047.4,379.0C1049.9,383.5 1051.9,388.1 1053.0,392.6C1054.1,397.1 1054.9,401.9 1054.0,406.0C1053.1,410.1 1049.3,414.0 1047.4,417.4C1045.5,420.8 1043.4,422.6 1042.8,426.4C1042.2,430.2 1044.8,435.8 1044.0,440.0C1043.2,444.2 1041.1,449.1 1038.3,451.5C1035.5,453.9 1030.0,452.7 1027.0,454.5C1024.0,456.3 1022.1,459.0 1020.3,462.5C1018.5,466.0 1018.3,471.2 1016.3,475.6C1014.2,480.1 1010.8,485.3 1008.0,489.2C1005.2,493.1 1002.3,495.6 999.8,498.8C997.3,502.0 994.4,504.5 993.0,508.4C991.6,512.3 992.3,517.5 991.6,522.0C990.9,526.5 989.1,531.1 988.9,535.7C988.7,540.3 989.8,545.3 990.3,549.4C990.8,553.5 992.5,556.8 991.6,560.4C990.7,564.0 986.2,567.7 984.8,571.3C983.4,574.9 982.5,578.6 983.4,582.2C984.3,585.9 989.1,589.6 990.3,593.2C991.4,596.9 991.2,600.7 990.3,604.1C989.4,607.5 987.8,611.4 984.8,613.7C981.8,616.0 976.8,617.6 972.5,617.8C968.2,618.0 962.9,616.8 958.8,615.0C954.7,613.2 952.4,609.1 947.9,606.8C943.4,604.5 936.5,602.8 931.5,601.4C926.5,600.0 922.4,600.7 917.8,598.6C913.2,596.5 908.7,591.6 904.1,589.0C899.5,586.4 894.5,583.2 890.4,582.8C886.3,582.3 882.7,583.7 879.5,586.3C876.3,588.9 874.9,594.3 871.3,598.6C867.6,602.9 862.2,608.2 857.6,612.3C853.0,616.4 848.5,619.9 843.9,623.3C839.3,626.7 835.3,629.8 830.3,632.8C825.3,635.8 818.8,638.3 813.8,641.0C808.8,643.7 804.3,646.2 800.2,649.2C796.1,652.2 794.7,656.3 789.2,658.8C783.7,661.3 773.8,662.7 767.4,664.3C761.0,665.9 755.3,669.0 750.9,668.4C746.5,667.8 745.3,662.7 740.9,660.5C736.5,658.3 730.0,655.7 724.5,655.0C719.0,654.3 713.5,655.2 708.0,656.4C702.5,657.5 696.6,661.2 691.6,661.9C686.6,662.6 683.5,662.1 678.0,660.5C672.5,658.9 665.6,654.3 658.8,652.3C651.9,650.2 643.7,648.9 636.9,648.2C630.1,647.5 622.8,649.6 617.8,648.2C612.8,646.8 609.5,643.0 606.8,640.0C604.1,637.0 604.6,632.7 601.4,630.4C598.2,628.1 592.7,627.2 587.7,626.3C582.7,625.4 576.8,625.0 571.3,625.0C565.8,625.0 560.8,626.3 554.9,626.3C549.0,626.3 541.2,625.9 535.7,625.0C530.2,624.1 527.0,622.3 522.0,620.9C517.0,619.5 511.1,617.7 505.6,616.8C500.1,615.9 493.8,617.0 489.2,615.4C484.6,613.8 482.4,608.3 478.3,607.2C474.2,606.1 468.9,608.4 464.6,608.6C460.3,608.8 453.2,610.4 452.3,608.6Z" fill="#2e6ebd" stroke="#2e6ebd" stroke-width="1" stroke-linejoin="round"/>
<g fill="none" stroke="#d0e1f5" stroke-width="1.4" stroke-linejoin="round" stroke-linecap="round">
<path d="M564.5,520.5C566.5,521.0 572.0,522.7 576.8,523.8C581.6,524.9 587.7,527.0 593.2,527.0C598.7,527.0 604.1,524.2 609.6,523.8C615.1,523.4 621.0,525.2 626.0,524.5C631.0,523.8 635.2,520.7 639.7,519.7C644.2,518.7 649.0,519.0 653.3,518.3C657.6,517.6 661.6,513.8 665.7,515.6C669.8,517.4 673.2,525.1 678.0,529.2C682.8,533.3 688.5,537.2 694.4,540.2C700.3,543.2 708.0,544.7 713.5,547.0C719.0,549.3 723.6,550.8 727.2,553.8C730.9,556.8 733.6,560.2 735.4,564.8C737.2,569.4 736.3,577.1 738.1,581.2C739.9,585.3 741.4,587.4 746.3,589.4C751.2,591.4 759.3,591.7 767.4,593.2C775.5,594.7 787.9,595.9 794.7,598.6C801.5,601.3 805.7,605.2 808.4,609.6C811.1,614.0 810.1,619.8 811.0,625.0C811.9,630.2 813.3,638.3 813.8,641.0"/>
<path d="M727.2,553.8C729.3,553.3 733.3,551.5 740.0,550.8C746.7,550.1 758.3,549.2 767.4,549.4C776.5,549.6 785.6,552.8 794.7,552.1C803.8,551.4 815.2,547.1 822.0,545.3C828.8,543.5 832.1,541.0 835.7,541.2C839.4,541.4 840.7,545.1 843.9,546.7C847.1,548.3 850.1,549.7 854.9,550.8C859.7,551.9 866.8,554.6 872.7,553.5C878.6,552.4 886.1,547.3 890.4,543.9C894.7,540.5 896.1,536.2 898.6,533.0C901.1,529.8 904.4,526.2 905.5,524.8"/>
<path d="M872.7,553.5C873.2,556.0 875.9,563.8 875.4,568.6C874.9,573.4 870.1,578.6 869.9,582.2C869.7,585.8 873.3,589.0 874.0,590.4"/>
<path d="M835.7,541.2C835.7,538.5 834.1,531.2 835.7,524.8C837.3,518.4 847.6,505.8 845.3,502.9C843.0,500.0 821.3,509.1 822.0,507.5C822.7,505.9 840.3,498.4 849.4,493.3C858.5,488.2 871.3,477.8 876.8,476.9C882.3,476.0 878.8,485.3 882.2,487.9C885.6,490.5 892.8,491.4 897.4,492.6C902.0,493.8 906.3,492.9 909.7,495.3C913.1,497.7 918.5,502.1 917.8,507.0C917.1,511.9 905.0,520.9 905.5,524.8C906.0,528.7 915.5,528.5 920.5,530.3C925.5,532.1 934.2,532.5 935.6,535.7C937.0,538.9 930.3,543.9 928.7,549.4C927.1,554.9 926.5,562.7 926.0,568.6C925.5,574.5 927.4,581.1 926.0,585.0C924.6,588.9 918.0,589.6 917.8,591.8C917.6,594.0 923.8,597.0 925.0,598.0"/>
<path d="M842.6,496.0C841.5,491.2 837.5,475.4 835.7,467.4C833.9,459.4 831.4,452.0 831.6,448.2C831.8,444.4 833.4,445.3 837.0,444.5C840.6,443.7 848.9,442.5 853.4,443.2C857.9,443.9 861.5,448.2 864.3,448.6C867.1,449.0 867.7,446.5 870.0,445.4C872.3,444.3 876.0,443.2 878.2,442.0C880.4,440.8 881.9,439.0 883.0,437.9C884.1,436.8 882.6,435.9 885.0,435.1C887.4,434.3 893.1,433.6 897.4,433.1C901.7,432.7 905.8,432.8 911.0,432.4C916.2,432.0 925.6,431.7 928.8,431.0C932.0,430.3 930.0,428.8 930.2,428.3"/>
<path d="M883.0,437.9C883.8,439.7 885.9,444.7 887.8,448.8C889.7,452.9 891.6,461.4 894.6,462.5C897.6,463.6 902.0,457.9 905.6,455.6C909.2,453.3 913.4,450.3 916.5,448.8C919.6,447.3 922.0,446.6 924.0,446.8C926.0,447.0 927.1,448.7 928.8,450.2C930.5,451.7 933.4,454.7 934.3,455.6"/>
<path d="M864.3,448.6C865.2,450.8 868.1,457.2 870.0,462.0C871.9,466.8 874.6,474.9 875.5,477.5"/>
<path d="M935.6,458.4C934.9,459.8 933.8,464.1 931.5,466.6C929.2,469.1 925.2,471.3 922.0,473.4C918.8,475.4 914.7,476.4 912.4,478.9C910.1,481.4 908.8,485.8 908.3,488.5C907.8,491.2 909.5,494.2 909.7,495.3"/>
<path d="M917.8,507.0C919.9,507.1 926.3,508.4 930.2,507.6C934.1,506.8 937.5,503.9 941.1,502.1C944.7,500.3 947.9,497.8 952.0,496.7C956.1,495.6 962.1,496.0 965.7,495.3C969.4,494.6 970.9,493.1 973.9,492.6C976.9,492.2 980.8,491.7 983.5,492.6C986.2,493.5 989.2,497.1 990.3,498.0"/>
<path d="M952.7,457.0C953.1,458.1 953.1,461.3 954.8,463.8C956.5,466.3 959.8,468.6 963.0,472.0C966.2,475.4 970.5,481.0 973.9,484.4C977.3,487.8 981.9,491.2 983.5,492.6"/>
<path d="M716.6,366.6C717.3,368.4 717.1,376.1 720.7,377.5C724.4,378.9 731.9,375.9 738.5,374.8C745.1,373.7 755.5,371.8 760.3,370.7C765.1,369.6 765.4,367.3 767.2,368.0C769.0,368.7 768.8,372.1 771.3,374.8C773.8,377.5 779.2,382.4 782.2,384.4C785.2,386.4 788.5,384.5 789.0,387.0C789.5,389.5 787.3,393.2 785.0,399.4C782.7,405.6 775.4,417.2 775.4,424.0C775.4,430.8 781.1,435.8 785.0,440.4C788.9,445.0 794.1,450.7 798.6,451.4C803.1,452.1 806.8,445.0 812.3,444.5C817.8,444.0 828.3,447.9 831.5,448.6"/>
<path d="M917.4,332.1C917.5,333.8 917.8,338.6 918.0,342.4C918.2,346.2 919.0,350.6 918.7,354.7C918.4,358.8 917.0,362.9 916.0,367.0C915.0,371.1 913.8,375.2 912.6,379.3C911.5,383.4 909.8,388.4 909.1,391.6C908.4,394.8 908.2,395.2 908.5,398.4C908.8,401.5 910.6,408.5 911.0,410.5"/>
<path d="M911.0,410.5C910.3,411.3 907.9,413.4 906.9,415.3C905.9,417.2 906.5,420.9 905.3,422.1C904.0,423.4 900.6,421.9 899.4,422.8C898.2,423.7 898.6,427.6 898.0,427.6C897.4,427.6 897.2,423.9 896.0,422.8C894.8,421.7 892.5,421.4 890.5,420.8C888.5,420.2 885.2,418.6 883.7,419.4C882.2,420.2 882.2,423.4 881.6,425.6C881.0,427.8 880.1,430.3 880.3,432.4C880.5,434.4 882.5,437.0 883.0,437.9"/>
<path d="M911.0,410.5C912.8,410.9 918.8,411.5 922.0,412.6C925.2,413.8 928.6,416.0 930.2,417.4C931.8,418.8 931.3,420.2 931.5,420.8"/>
<path d="M948.8,326.6C948.5,328.8 947.5,334.7 946.8,339.6C946.1,344.5 945.3,351.0 944.7,356.0C944.1,361.0 943.1,365.6 943.3,369.7C943.5,373.8 945.8,376.5 946.1,380.6C946.5,384.7 946.1,390.4 945.4,394.3C944.7,398.2 942.7,401.8 942.0,403.9C941.3,405.9 941.4,406.2 941.3,406.6"/>
<path d="M941.3,406.6C939.9,406.6 934.5,406.6 933.1,406.6"/>
<path d="M933.1,406.6C932.9,408.7 932.2,415.3 931.7,418.9C931.2,422.5 930.5,426.7 930.2,428.3"/>
<path d="M970.0,328.7C969.9,330.4 970.4,337.0 969.3,338.9C968.2,340.8 964.3,338.6 963.2,340.3C962.1,342.0 963.3,347.0 962.5,349.2C961.7,351.4 959.4,351.2 958.4,353.3C957.4,355.4 956.5,358.8 956.3,361.5C956.1,364.2 957.2,367.2 957.0,369.7C956.8,372.2 955.2,373.3 955.0,376.5C954.8,379.7 956.4,386.3 955.6,388.8C954.8,391.3 951.6,390.9 950.2,391.6C948.8,392.3 947.0,391.2 947.4,393.0C947.8,394.8 952.4,399.6 952.9,402.5C953.4,405.4 950.4,408.4 950.2,410.7C950.0,413.0 950.1,414.8 951.5,416.2C952.9,417.6 957.2,418.4 958.4,418.9"/>
<path d="M955.6,388.8C956.1,390.6 957.0,396.4 958.4,399.8C959.8,403.2 962.2,406.2 963.8,409.4C965.4,412.6 966.9,416.2 968.0,418.9C969.1,421.6 969.6,424.3 970.7,425.8C971.8,427.3 973.7,428.3 974.8,427.8C975.9,427.3 975.9,424.9 977.5,423.0C979.1,421.1 982.1,418.5 984.4,416.2C986.7,413.9 990.1,410.5 991.2,409.4"/>
<path d="M958.4,418.9C960.0,418.9 966.4,418.9 968.0,418.9"/>
<path d="M1018.5,345.8C1019.1,347.5 1021.5,352.5 1022.0,356.0C1022.5,359.5 1022.1,363.6 1021.3,367.0C1020.5,370.4 1019.5,373.6 1017.2,376.5C1014.9,379.4 1009.7,382.2 1007.6,384.7C1005.5,387.2 1006.3,389.1 1004.9,391.6C1003.5,394.1 1001.7,396.6 999.4,399.8C997.1,403.0 993.2,407.1 991.2,410.7C989.2,414.3 988.5,418.1 987.1,421.7C985.7,425.3 983.6,429.0 983.0,432.4C982.4,435.8 983.0,439.9 983.5,442.0C984.0,444.1 985.6,443.2 986.2,444.7C986.8,446.2 986.8,449.9 986.9,450.9"/>
<path d="M931.7,420.3C936.0,421.3 953.2,425.2 957.5,426.2"/>
<path d="M930.2,428.3C934.5,429.2 947.3,431.5 956.2,433.8C965.1,436.1 979.0,440.6 983.5,442.0"/>
<path d="M958.4,418.9C958.2,420.1 957.9,423.7 957.5,426.2C957.1,428.7 956.2,430.7 956.2,433.8C956.2,436.9 958.0,442.4 957.5,444.7C957.0,447.0 954.2,445.3 953.4,447.4C952.6,449.4 951.8,455.2 952.7,457.0C953.6,458.8 956.3,458.4 958.9,458.4C961.5,458.4 965.1,457.9 968.5,457.0C971.9,456.1 976.3,453.9 979.4,452.9C982.5,451.9 985.6,451.2 986.9,450.9"/>
<path d="M986.2,444.7C987.3,444.6 990.5,443.8 993.0,444.0C995.5,444.2 999.2,444.8 1001.3,446.0C1003.4,447.2 1003.3,449.9 1005.4,451.5C1007.5,453.1 1011.1,454.6 1013.6,455.6C1016.1,456.6 1019.3,457.4 1020.4,457.7"/>
<path d="M938.4,431.0C938.0,433.2 936.7,439.9 936.0,444.0C935.3,448.1 934.4,453.2 934.3,455.6C934.2,458.0 934.5,457.7 935.6,458.4C936.7,459.1 939.5,459.2 941.1,459.7C942.7,460.1 944.4,461.8 945.2,461.1C946.0,460.4 946.0,457.4 945.9,455.6C945.8,453.8 944.4,454.1 944.5,450.2C944.6,446.3 946.2,435.4 946.6,432.4"/>
<path d="M948.6,433.1C948.3,435.0 946.9,442.8 946.6,444.7"/>
</g>
<path d="M678.0,529.2C680.0,525.7 686.0,514.0 690.0,508.0C694.0,502.0 696.2,496.2 702.0,493.0C707.8,489.8 716.5,489.5 725.0,489.0C733.5,488.5 746.8,488.5 753.0,490.0C759.2,491.5 759.3,495.3 762.0,498.0C764.7,500.7 766.0,505.2 769.0,506.0C772.0,506.8 776.7,504.7 780.0,503.0C783.3,501.3 788.4,498.8 788.6,496.0C788.8,493.2 783.7,488.7 781.0,486.0C778.3,483.3 771.8,482.7 772.6,480.0C773.4,477.3 781.8,472.7 786.0,470.0C790.2,467.3 794.8,466.5 798.0,464.0C801.2,461.5 802.8,457.1 805.0,455.0C807.2,452.9 806.8,453.0 811.0,451.5C815.2,450.0 826.8,446.9 830.0,446.0" fill="none" stroke="#78a5e0" stroke-width="1.1"/>
<g stroke="#16233b" stroke-width="1.3" opacity="0.9">
<line x1="864" y1="298.5" x2="927.2" y2="348.8"/>
<line x1="999.6" y1="296.5" x2="957" y2="336.5"/>
<line x1="678.2" y1="350.3" x2="906.7" y2="422.7"/>
<line x1="1047.4" y1="367.7" x2="961.6" y2="414"/>
<line x1="1025" y1="438.8" x2="961.8" y2="428.9"/>
<line x1="1046.4" y1="465.5" x2="942.6" y2="428.2"/>
<line x1="1030" y1="486.2" x2="969.7" y2="450.1"/>
<line x1="1032.2" y1="512.9" x2="976.4" y2="467.7"/>
<line x1="1040.8" y1="550.1" x2="943.7" y2="447"/>
<line x1="1035" y1="575.6" x2="944.4" y2="479.5"/>
<line x1="934.2" y1="638.3" x2="924.6" y2="442.7"/>
</g>
<text x="825.26" y="391.0" font-size="15" font-weight="400" fill="#dfeaf8" text-anchor="start" textLength="38.41" lengthAdjust="spacingAndGlyphs" stroke="#dfeaf8" stroke-width="0.3">Sucre</text>
<text x="686.65" y="456.3" font-size="15.3" font-weight="400" fill="#dfeaf8" text-anchor="start" textLength="75.74" lengthAdjust="spacingAndGlyphs" stroke="#dfeaf8" stroke-width="0.3">El Junquito</text>
<text x="845.33" y="472.7" font-size="15.3" font-weight="400" fill="#dfeaf8" text-anchor="start" textLength="66.01" lengthAdjust="spacingAndGlyphs" stroke="#dfeaf8" stroke-width="0.3">El Paraíso</text>
<text x="737.50" y="531.6" font-size="15.3" font-weight="400" fill="#dfeaf8" text-anchor="start" textLength="66.75" lengthAdjust="spacingAndGlyphs" stroke="#dfeaf8" stroke-width="0.3">Antímano</text>
<text x="845.52" y="522.0" font-size="15.3" font-weight="400" fill="#dfeaf8" text-anchor="start" textLength="52.99" lengthAdjust="spacingAndGlyphs" stroke="#dfeaf8" stroke-width="0.3">La Vega</text>
<text x="787.17" y="583.0" font-size="15.3" font-weight="400" fill="#dfeaf8" text-anchor="start" textLength="59.53" lengthAdjust="spacingAndGlyphs" stroke="#dfeaf8" stroke-width="0.3">Caricuao</text>
<text x="881.48" y="568.6" font-size="15.3" font-weight="400" fill="#dfeaf8" text-anchor="start" textLength="42.51" lengthAdjust="spacingAndGlyphs" stroke="#dfeaf8" stroke-width="0.3">Coche</text>
<text x="934.37" y="564.4" font-size="15.3" font-weight="400" fill="#dfeaf8" text-anchor="start" textLength="49.75" lengthAdjust="spacingAndGlyphs" stroke="#dfeaf8" stroke-width="0.3">El Valle</text>
<text x="600.91" y="593.0" font-size="15.3" font-weight="400" fill="#dfeaf8" text-anchor="start" textLength="61.38" lengthAdjust="spacingAndGlyphs" stroke="#dfeaf8" stroke-width="0.3">Macarao</text>
<text x="975.59" y="356.9" font-size="15" font-weight="400" fill="#dfeaf8" text-anchor="start" textLength="25.31" lengthAdjust="spacingAndGlyphs" stroke="#dfeaf8" stroke-width="0.3">San</text>
<text x="959.42" y="372.9" font-size="11" font-weight="400" fill="#dfeaf8" text-anchor="start" textLength="58.10" lengthAdjust="spacingAndGlyphs" stroke="#dfeaf8" stroke-width="0.3">Bernardino</text>
<text x="1014.53" y="406.8" font-size="15" font-weight="400" fill="#dfeaf8" text-anchor="start" textLength="13.59" lengthAdjust="spacingAndGlyphs" stroke="#dfeaf8" stroke-width="0.3">El</text>
<text x="996.49" y="426.4" font-size="15" font-weight="400" fill="#dfeaf8" text-anchor="start" textLength="46.90" lengthAdjust="spacingAndGlyphs" stroke="#dfeaf8" stroke-width="0.3">Recreo</text>
<text x="815.26" y="295.9" font-size="17" font-weight="400" fill="#222" text-anchor="start" textLength="79.13" lengthAdjust="spacingAndGlyphs" stroke="#222" stroke-width="0.3">La Pastora</text>
<text x="977.50" y="289.5" font-size="17" font-weight="400" fill="#222" text-anchor="start" textLength="76.11" lengthAdjust="spacingAndGlyphs" stroke="#222" stroke-width="0.3">Altagracia</text>
<text x="624.11" y="339.0" font-size="17" font-weight="400" fill="#222" text-anchor="start" textLength="44.73" lengthAdjust="spacingAndGlyphs" stroke="#222" stroke-width="0.3">23 de</text>
<text x="622.86" y="361.3" font-size="17" font-weight="400" fill="#222" text-anchor="start" textLength="46.48" lengthAdjust="spacingAndGlyphs" stroke="#222" stroke-width="0.3">Enero</text>
<text x="1061.39" y="376.4" font-size="17" font-weight="400" fill="#222" text-anchor="start" textLength="66.81" lengthAdjust="spacingAndGlyphs" stroke="#222" stroke-width="0.3">San José</text>
<text x="1042.71" y="446.3" font-size="17" font-weight="400" fill="#222" text-anchor="start" textLength="104.89" lengthAdjust="spacingAndGlyphs" stroke="#222" stroke-width="0.3">La Candelaria</text>
<text x="1059.22" y="472.7" font-size="17" font-weight="400" fill="#222" text-anchor="start" textLength="66.84" lengthAdjust="spacingAndGlyphs" stroke="#222" stroke-width="0.3">Catedral</text>
<text x="1044.54" y="492.6" font-size="17" font-weight="400" fill="#222" text-anchor="start" textLength="92.66" lengthAdjust="spacingAndGlyphs" stroke="#222" stroke-width="0.3">San Agustín</text>
<text x="1049.07" y="527.5" font-size="17" font-weight="400" fill="#222" text-anchor="start" textLength="78.25" lengthAdjust="spacingAndGlyphs" stroke="#222" stroke-width="0.3">San Pedro</text>
<text x="1043.47" y="558.0" font-size="17" font-weight="400" fill="#222" text-anchor="start" textLength="97.61" lengthAdjust="spacingAndGlyphs" stroke="#222" stroke-width="0.3">Santa Teresa</text>
<text x="1041.88" y="588.5" font-size="17" font-weight="400" fill="#222" text-anchor="start" textLength="102.77" lengthAdjust="spacingAndGlyphs" stroke="#222" stroke-width="0.3">Santa Rosalía</text>
<text x="904.78" y="659.0" font-size="17" font-weight="400" fill="#222" text-anchor="start" textLength="69.28" lengthAdjust="spacingAndGlyphs" stroke="#222" stroke-width="0.3">San Juan</text>
<rect x="498" y="726" width="268" height="129" rx="43" ry="43" fill="#000" opacity="0.40" filter="url(#sh1)" transform="translate(2.5,3.5)"/>
<rect x="496.5" y="723.5" width="270" height="131" rx="44" ry="44" fill="#f6f6f6"/>
<rect x="498" y="725" width="267" height="128" rx="42.5" ry="42.5" fill="url(#gbadge)"/>
<text x="569.16" y="768.4" font-size="32.5" font-weight="700" fill="#2e6ebd" text-anchor="start" textLength="38.64" lengthAdjust="spacingAndGlyphs">22</text>
<text x="617.42" y="768.4" font-size="26.5" font-weight="400" fill="#2e6ebd" text-anchor="start" textLength="28.78" lengthAdjust="spacingAndGlyphs" stroke="#2e6ebd" stroke-width="0.45">de</text>
<text x="653.26" y="768.4" font-size="32.5" font-weight="700" fill="#2e6ebd" text-anchor="start" textLength="38.85" lengthAdjust="spacingAndGlyphs">22</text>
<text x="567.53" y="806.0" font-size="24" font-weight="400" fill="#2e6ebd" text-anchor="start" textLength="126.16" lengthAdjust="spacingAndGlyphs" stroke="#2e6ebd" stroke-width="0.45">Parroquias</text>
<text x="574.62" y="840.8" font-size="24" font-weight="400" fill="#2e6ebd" text-anchor="start" textLength="111.97" lengthAdjust="spacingAndGlyphs" stroke="#2e6ebd" stroke-width="0.45">afectadas</text>
</svg></body></html>
